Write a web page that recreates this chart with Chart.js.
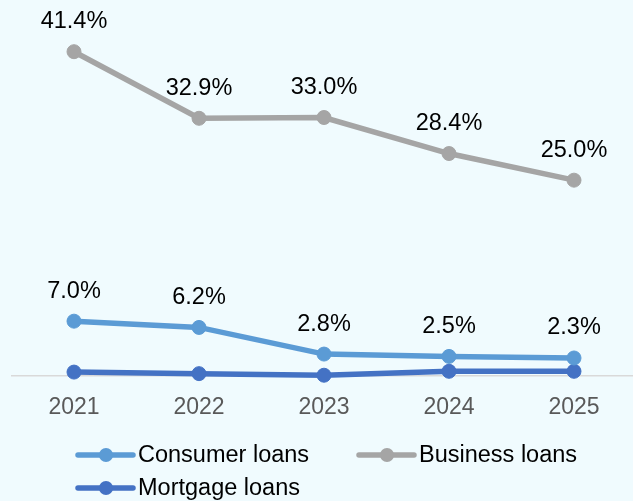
<!DOCTYPE html>
<html>
<head>
<meta charset="utf-8">
<script src="https://cdn.jsdelivr.net/npm/chart.js@4"></script>
<style>
  html, body { margin: 0; padding: 0; background: #F0FBFE; overflow: hidden; }
  #wrap { width: 640px; height: 501px; position: relative; }
</style>
</head>
<body>
<div id="wrap"><canvas id="loansChart"></canvas></div>
<script>
const years = ['2021', '2022', '2023', '2024', '2025'];
const consumerLoans = [7.0, 6.2, 2.8, 2.5, 2.3];
const businessLoans = [41.4, 32.9, 33.0, 28.4, 25.0];
const mortgageLoans = [0.5, 0.3, 0.1, 0.6, 0.6];

const FONT = '"Liberation Sans", Arial, sans-serif';

// value labels above the points of the labelled series
const valueLabels = {
  id: 'valueLabels',
  afterDatasetsDraw(chart) {
    const ctx = chart.ctx;
    ctx.save();
    ctx.font = '23.5px ' + FONT;
    ctx.fillStyle = '#000';
    ctx.textAlign = 'center';
    ctx.textBaseline = 'middle';
    chart.data.datasets.forEach((ds, i) => {
      if (!ds.showValues) return;
      chart.getDatasetMeta(i).data.forEach((pt, j) => {
        ctx.fillText(ds.data[j].toFixed(1) + '%', pt.x, pt.y - 30);
      });
    });
    ctx.restore();
  }
};

// line + dot legend, two items per row, left aligned
const lineLegend = {
  id: 'lineLegend',
  afterDraw(chart) {
    const ctx = chart.ctx;
    const cols = [78, 359];
    const rows = [455, 488];
    ctx.save();
    ctx.font = '23.5px ' + FONT;
    ctx.textAlign = 'left';
    ctx.textBaseline = 'middle';
    chart.data.datasets.forEach((ds, i) => {
      const x = cols[i % 2];
      const y = rows[Math.floor(i / 2)];
      ctx.strokeStyle = ds.borderColor;
      ctx.lineWidth = 5.5;
      ctx.lineCap = 'round';
      ctx.beginPath();
      ctx.moveTo(x, y);
      ctx.lineTo(x + 55, y);
      ctx.stroke();
      ctx.fillStyle = ds.borderColor;
      ctx.beginPath();
      ctx.arc(x + 28, y, 7, 0, Math.PI * 2);
      ctx.fill();
      ctx.fillStyle = '#000';
      ctx.fillText(ds.label, x + 60, y + 1);
    });
    ctx.restore();
  }
};

function lineSet(label, data, color, showValues) {
  return {
    label: label,
    data: data,
    borderColor: color,
    backgroundColor: color,
    borderWidth: 5.5,
    pointRadius: 7,
    pointBorderWidth: 1,
    pointBackgroundColor: color,
    pointBorderColor: color,
    tension: 0,
    clip: false,
    showValues: showValues
  };
}

new Chart(document.getElementById('loansChart'), {
  type: 'line',
  data: {
    labels: years,
    datasets: [
      lineSet('Consumer loans', consumerLoans, '#5B9BD5', true),
      lineSet('Business loans', businessLoans, '#A5A5A5', true),
      lineSet('Mortgage loans', mortgageLoans, '#4472C4', false)
    ]
  },
  options: {
    responsive: true,
    maintainAspectRatio: false,
    animation: false,
    layout: { autoPadding: false, padding: { left: 11.5, right: 3.5, top: 0, bottom: 0 } },
    plugins: {
      legend: { display: false },
      tooltip: { enabled: false }
    },
    scales: {
      x: {
        offset: true,
        grid: { display: false, drawTicks: false },
        border: { display: true, color: '#D9D9D9', width: 1.5 },
        ticks: {
          color: '#595959',
          font: { family: FONT, size: 23 },
          padding: 18
        },
        afterFit: (scale) => { scale.height = 125; }
      },
      y: {
        display: false,
        min: 0,
        max: 48
      }
    }
  },
  plugins: [valueLabels, lineLegend]
});
</script>
</body>
</html>
